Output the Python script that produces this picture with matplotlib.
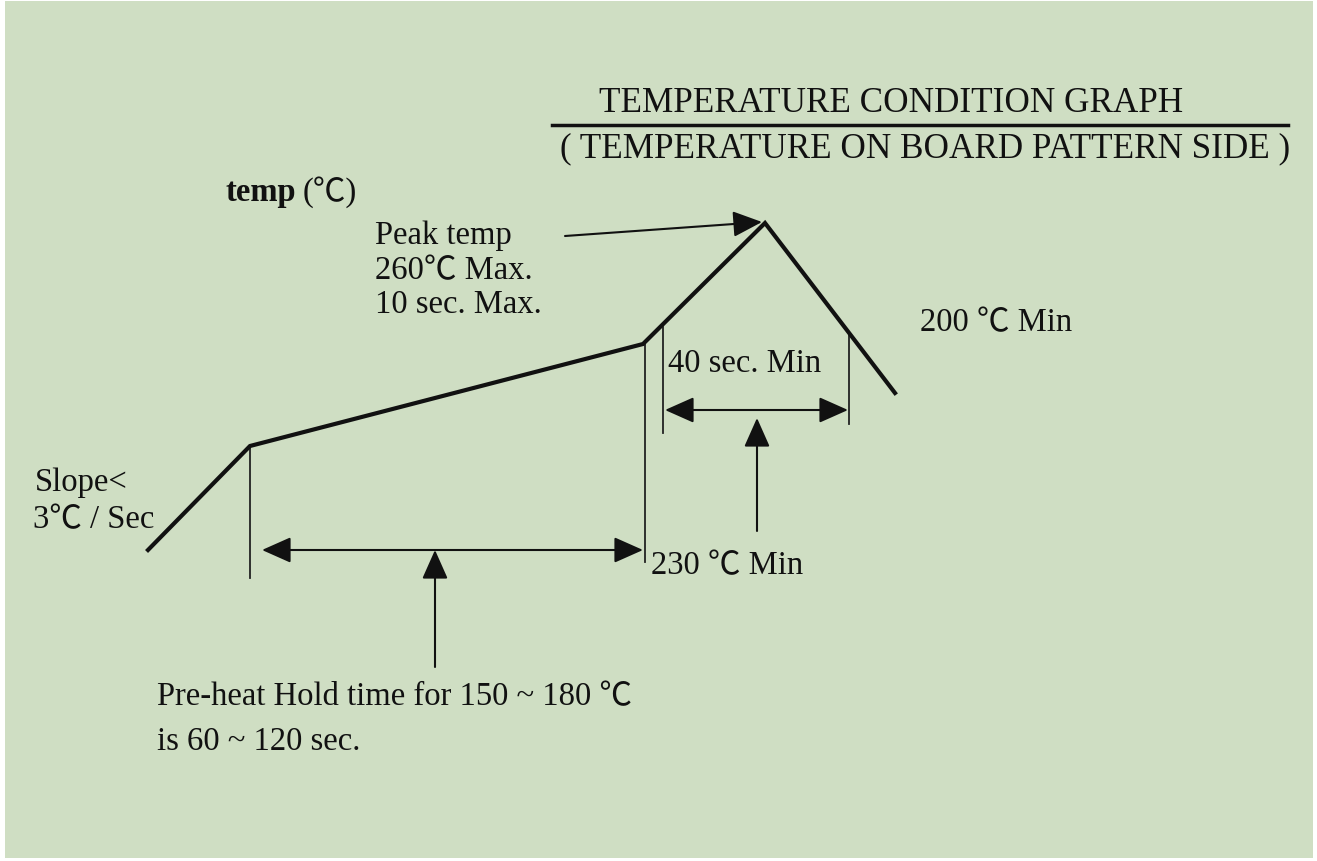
import matplotlib.pyplot as plt

# reflow profile, in drawing units (x grows right, y grows down)
profile_x = [148, 250, 643, 765, 895]
profile_y = [550, 446, 344, 223, 393]

# thin vertical guide lines
guide_x = [250, 645, 663, 849]
guide_top = [446, 342, 327, 334]
guide_bottom = [578, 562, 433, 424]

# double-headed span arrows: x start, x end, y
span_x0 = [262, 665]
span_x1 = [643, 848]
span_y = [550, 410]

# single pointer arrows: from -> to
ptr_from = [(435, 667), (757, 531), (565, 236)]
ptr_to = [(435, 550), (757, 418), (762, 222)]

labels = [
    ("temp", 226, 192, "bold"),
    ("(\u2103)", 303, 192, "normal"),
    ("Peak temp", 375, 236, "normal"),
    ("260\u2103 Max.", 375, 271, "normal"),
    ("10 sec. Max.", 375, 305, "normal"),
    ("200 \u2103 Min", 920, 323, "normal"),
    ("40 sec. Min", 668, 364, "normal"),
    ("Slope<", 35, 483, "normal"),
    ("3\u2103 / Sec", 33, 520, "normal"),
    ("230 \u2103 Min", 651, 566, "normal"),
    ("Pre-heat Hold time for 150 ~ 180 \u2103", 157, 697, "normal"),
    ("is 60 ~ 120 sec.", 157, 742, "normal"),
]

title1 = "TEMPERATURE CONDITION GRAPH"
title2 = "( TEMPERATURE ON BOARD PATTERN SIDE )"

fonts = ["Liberation Serif", "Noto Sans CJK JP", "DejaVu Sans"]
ink = "#111111"

fig = plt.figure(figsize=(13.17, 8.61), dpi=100)
fig.patch.set_facecolor("white")
ax = fig.add_axes([0, 0, 1, 1])
ax.set_xlim(0, 1317)
ax.set_ylim(861, 0)
ax.axis("off")

# green panel
ax.add_patch(plt.Rectangle((5, 1), 1308, 857, facecolor="#cfdec3", edgecolor="none", zorder=0))

ax.plot(profile_x, profile_y, color=ink, lw=3.0, solid_joinstyle="miter", zorder=3)

for x, y0, y1 in zip(guide_x, guide_top, guide_bottom):
    ax.plot([x, x], [y0, y1], color="#222222", lw=1.3, zorder=2)

for x0, x1, y in zip(span_x0, span_x1, span_y):
    ax.annotate("", xy=(x1, y), xytext=(x0, y),
                arrowprops=dict(arrowstyle="<|-|>,head_length=0.9,head_width=0.4",
                                mutation_scale=20, color=ink, lw=1.5,
                                shrinkA=0, shrinkB=0))

for (x0, y0), (x1, y1) in zip(ptr_from, ptr_to):
    ax.annotate("", xy=(x1, y1), xytext=(x0, y0),
                arrowprops=dict(arrowstyle="-|>,head_length=0.9,head_width=0.4",
                                mutation_scale=20, color=ink, lw=1.5,
                                shrinkA=0, shrinkB=0))

ax.text(891, 104, title1, fontsize=25.3, family=fonts, color=ink, ha="center", va="center")
ax.plot([552, 1288], [125, 125], color=ink, lw=2.5)
ax.text(925, 149, title2, fontsize=25.3, family=fonts, color=ink, ha="center", va="center")

for txt, x, y, weight in labels:
    ax.text(x, y, txt, fontsize=23.5, family=fonts, weight=weight, color=ink,
            ha="left", va="center")

fig.savefig("out.png", dpi=100, facecolor=fig.get_facecolor())
